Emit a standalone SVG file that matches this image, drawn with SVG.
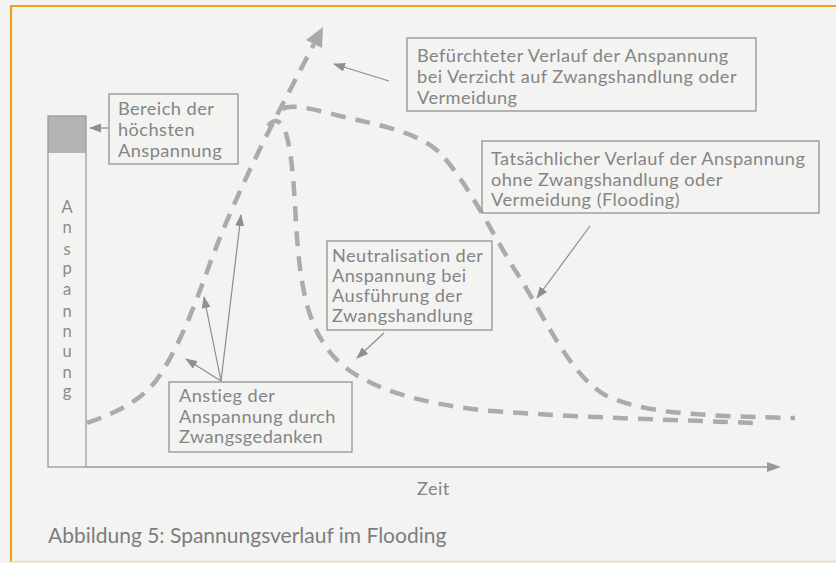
<svg xmlns="http://www.w3.org/2000/svg" width="836" height="563" viewBox="0 0 836 563">
<style>
.bg{fill:#f3f3f2}
.box{fill:none;stroke:#929292;stroke-width:1.3}
.t{font-family:Lato,"Liberation Sans",sans-serif;font-size:18.2px;letter-spacing:0.45px;fill:#858585}
.cap{font-family:Lato,"Liberation Sans",sans-serif;font-size:21px;fill:#7d7d7d}
.v{font-family:Lato,"Liberation Sans",sans-serif;font-size:16.5px;fill:#8a8a8a;text-anchor:middle}
.curve{fill:none;stroke:#ababab;stroke-width:4.5;stroke-dasharray:15 10}
.thin{fill:none;stroke:#8c8c8c;stroke-width:1.2;marker-end:url(#ah)}
.axis{fill:none;stroke:#9a9a9a;stroke-width:1.3}
</style>
<defs>
<marker id="ah" viewBox="0 0 12 9" refX="11" refY="4.5" markerWidth="12" markerHeight="9" markerUnits="userSpaceOnUse" orient="auto">
<path d="M0,0 L12,4.5 L0,9 z" fill="#8f8f8f"/>
</marker>
</defs>
<rect class="bg" x="0" y="0" width="836" height="563"/>
<path d="M11,562 L11,6 L836,6" fill="none" stroke="#f0a21a" stroke-width="2.2"/>
<line x1="11" y1="561.5" x2="836" y2="561.5" stroke="#f3dcb0" stroke-width="1.5"/>

<g id="axes">
<rect x="48" y="116" width="38" height="37" fill="#b4b4b4"/>
<rect class="axis" x="48" y="116" width="38" height="351"/>
<line class="axis" x1="86" y1="467" x2="768" y2="467"/>
<polygon points="781,467 767,462 767,472" fill="#999"/>
<text class="v" x="67" y="213">A</text>
<text class="v" x="67" y="233">n</text>
<text class="v" x="67" y="255">s</text>
<text class="v" x="67" y="274">p</text>
<text class="v" x="67" y="295">a</text>
<text class="v" x="67" y="317">n</text>
<text class="v" x="67" y="337">n</text>
<text class="v" x="67" y="357">u</text>
<text class="v" x="67" y="378">n</text>
<text class="v" x="67" y="397">g</text>
<text class="t" x="417" y="495">Zeit</text>
</g>

<g id="connectors">
<path class="curve" d="M87,423 C118,412 145,400 162,372 C185,335 200,290 212,258 C232,205 258,152 278,113 L314,44"/>
<polygon points="323,27 322,48 306,40" fill="#a9a9a9"/>
<path class="curve" d="M282,109 C292,104 310,108 340,116 C380,125 420,133 440,153 C470,185 495,240 520,278 C545,318 570,375 605,395 C640,412 690,416 795,418"/>
<path class="curve" d="M268,126 Q276,116 283,126 C290,140 293,170 295,205 C298,265 303,315 325,345 C345,378 395,400 480,410 C580,418 680,420 755,423"/>
<line class="thin" x1="108" y1="128" x2="90" y2="128"/>
<line class="thin" x1="389" y1="81" x2="334" y2="64"/>
<line class="thin" x1="590" y1="226" x2="537" y2="298"/>
<line class="thin" x1="384" y1="333" x2="357" y2="358"/>
<line class="thin" x1="221" y1="381" x2="186" y2="359"/>
<line class="thin" x1="221" y1="381" x2="204" y2="297"/>
<line class="thin" x1="221" y1="381" x2="241" y2="215"/>
</g>

<g id="bereich">
<rect class="box" x="109" y="94" width="129" height="70"/>
<text class="t" x="118" y="115">Bereich der</text>
<text class="t" x="118" y="136">höchsten</text>
<text class="t" x="118" y="157">Anspannung</text>
</g>

<g id="befuerchtet">
<rect class="box" x="407" y="38" width="349" height="73"/>
<text class="t" x="417" y="62">Befürchteter Verlauf der Anspannung</text>
<text class="t" x="417" y="83">bei Verzicht auf Zwangshandlung oder</text>
<text class="t" x="417" y="104">Vermeidung</text>
</g>

<g id="tatsaechlich">
<rect class="box" x="482" y="141" width="337" height="72"/>
<text class="t" x="491" y="165">Tatsächlicher Verlauf der Anspannung</text>
<text class="t" x="491" y="186">ohne Zwangshandlung oder</text>
<text class="t" x="491" y="206">Vermeidung (Flooding)</text>
</g>

<g id="neutralisation">
<rect class="box" x="327" y="241" width="165" height="89"/>
<text class="t" x="332" y="262">Neutralisation der</text>
<text class="t" x="332" y="282">Anspannung bei</text>
<text class="t" x="332" y="302">Ausführung der</text>
<text class="t" x="332" y="322">Zwangshandlung</text>
</g>

<g id="anstieg">
<rect class="box" x="169" y="382" width="183" height="70"/>
<text class="t" x="179" y="402">Anstieg der</text>
<text class="t" x="179" y="423">Anspannung durch</text>
<text class="t" x="179" y="443">Zwangsgedanken</text>
</g>

<text class="cap" x="48" y="543">Abbildung 5: Spannungsverlauf im Flooding</text>
</svg>
